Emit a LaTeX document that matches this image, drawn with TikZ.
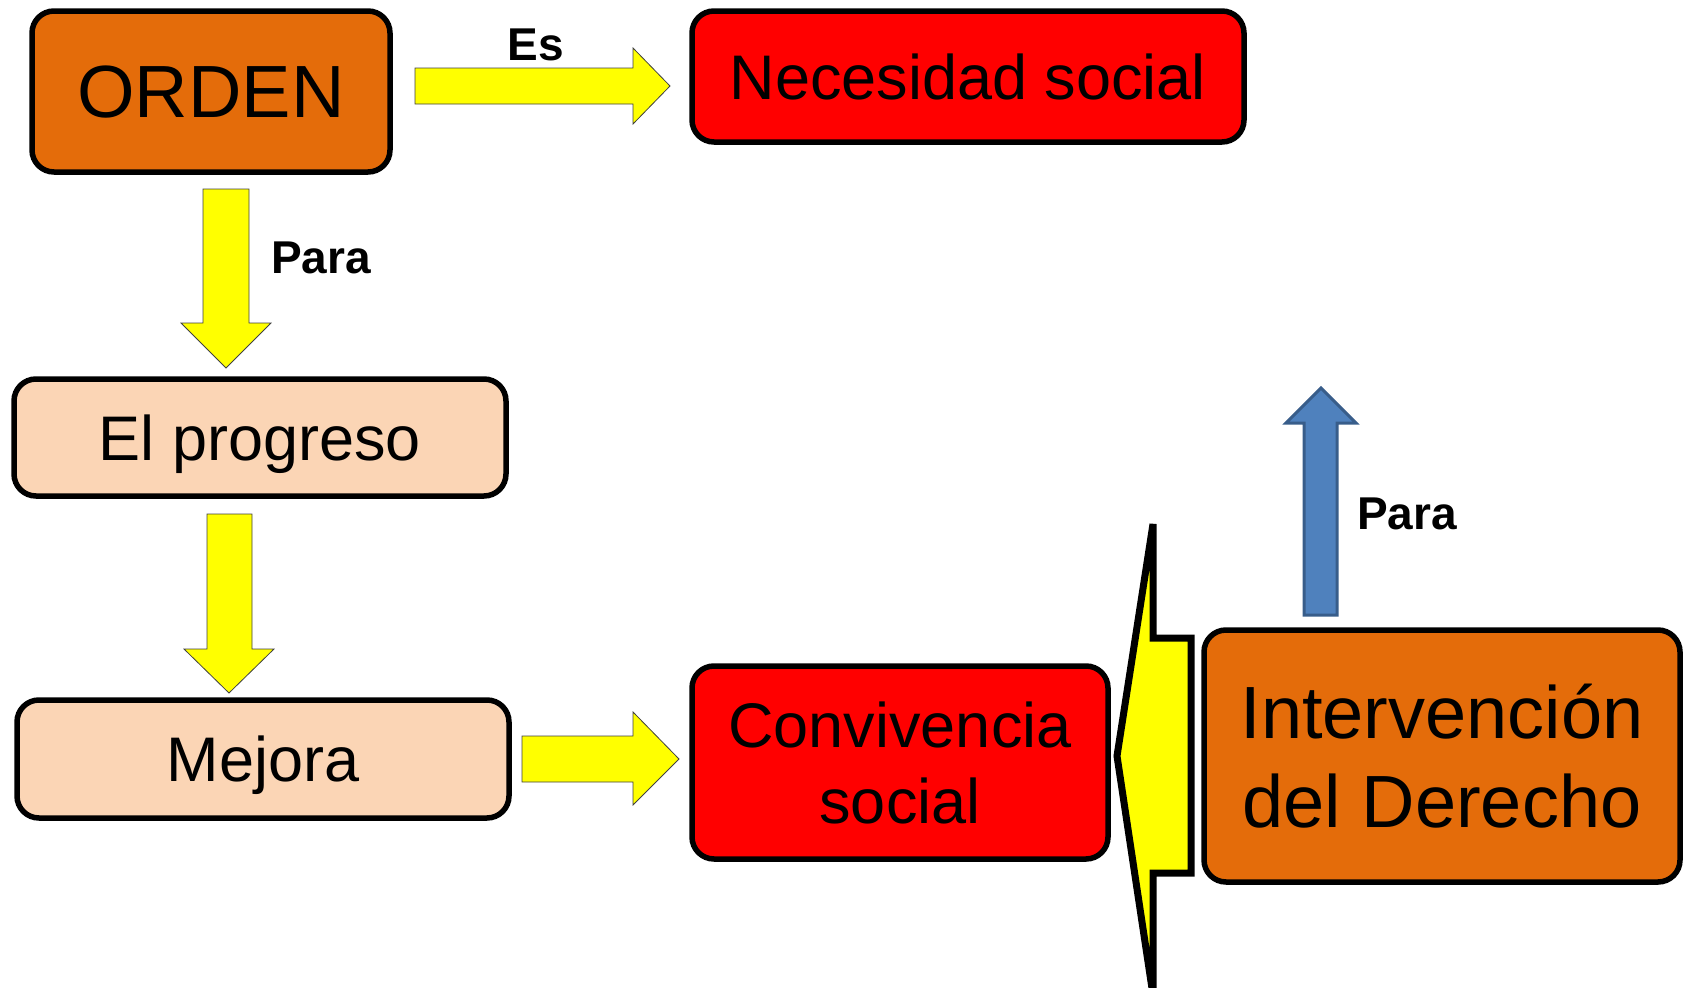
\documentclass[tikz,border=0pt]{standalone}
\usepackage{fontspec}
\setmainfont{Liberation Sans}
\definecolor{orangeF}{HTML}{E46C0A}
\definecolor{peachF}{HTML}{FBD5B5}
\definecolor{redF}{HTML}{FF0000}
\definecolor{yelF}{HTML}{FFFF00}
\definecolor{blueF}{HTML}{4F81BD}
\definecolor{blueD}{HTML}{385D8A}
\begin{document}
\begin{tikzpicture}[x=1pt,y=-1pt,
  box/.style={draw=black,line width=5.5pt,rounded corners=22pt,align=center,inner sep=0pt},
  txtA/.style={font=\fontsize{63}{76}\selectfont},
  txtB/.style={font=\fontsize{74}{89}\selectfont},
  lbl/.style={font=\fontsize{46}{55}\selectfont\bfseries},
  yarrow/.style={fill=yelF,draw=black!75,line width=0.8pt,line join=miter},
  barrow/.style={fill=blueF,draw=blueD,line width=3pt,line join=miter},
  callout/.style={fill=yelF,draw=black,line width=7pt,line join=miter}]
\useasboundingbox (0,0) rectangle (1687,988);
% boxes
\node[box,txtB,fill=orangeF,minimum width=358pt,minimum height=161pt,text depth=0pt] (orden) at (211,91.5) {ORDEN};
\node[box,txtA,fill=redF,minimum width=552pt,minimum height=131pt] (nec) at (968,76.5) {Necesidad social};
\node[box,txtA,fill=peachF,minimum width=492pt,minimum height=117pt,text depth=0pt] (prog) at (260,437.5) {El progreso};
\node[box,txtA,fill=peachF,minimum width=492pt,minimum height=118pt,text depth=0pt] (mej) at (263,759) {Mejora};
\node[box,txtA,fill=redF,minimum width=416pt,minimum height=193pt] (conv) at (900,762.5) {Convivencia\\social};
\node[box,txtB,fill=orangeF,minimum width=476pt,minimum height=252pt] (inter) at (1442,756) {Intervención\\del Derecho};
% block arrows
\draw[yarrow] (415,68) -- (633,68) -- (633,48) -- (670,86) -- (633,124) -- (633,104) -- (415,104) -- cycle;
\draw[yarrow] (203,189) -- (249,189) -- (249,323) -- (271,323) -- (226,368) -- (181,323) -- (203,323) -- cycle;
\draw[yarrow] (207,514) -- (252,514) -- (252,649) -- (274,649) -- (229,693) -- (184,649) -- (207,649) -- cycle;
\draw[yarrow] (522,736) -- (633,736) -- (633,712) -- (679,759) -- (633,805) -- (633,782) -- (522,782) -- cycle;
\draw[barrow] (1304,615) -- (1304,423) -- (1286,423) -- (1321,388) -- (1356,423) -- (1337,423) -- (1337,615) -- cycle;
\draw[callout] (1153,524) -- (1153,638) -- (1191,638) -- (1191,873) -- (1153,873) -- (1153,995) -- (1117,756) -- cycle;
% labels
\node[lbl] (les) at (536,45) {Es};
\node[lbl] (lp1) at (321,258) {Para};
\node[lbl] (lp2) at (1407,514) {Para};
\end{tikzpicture}
\end{document}
